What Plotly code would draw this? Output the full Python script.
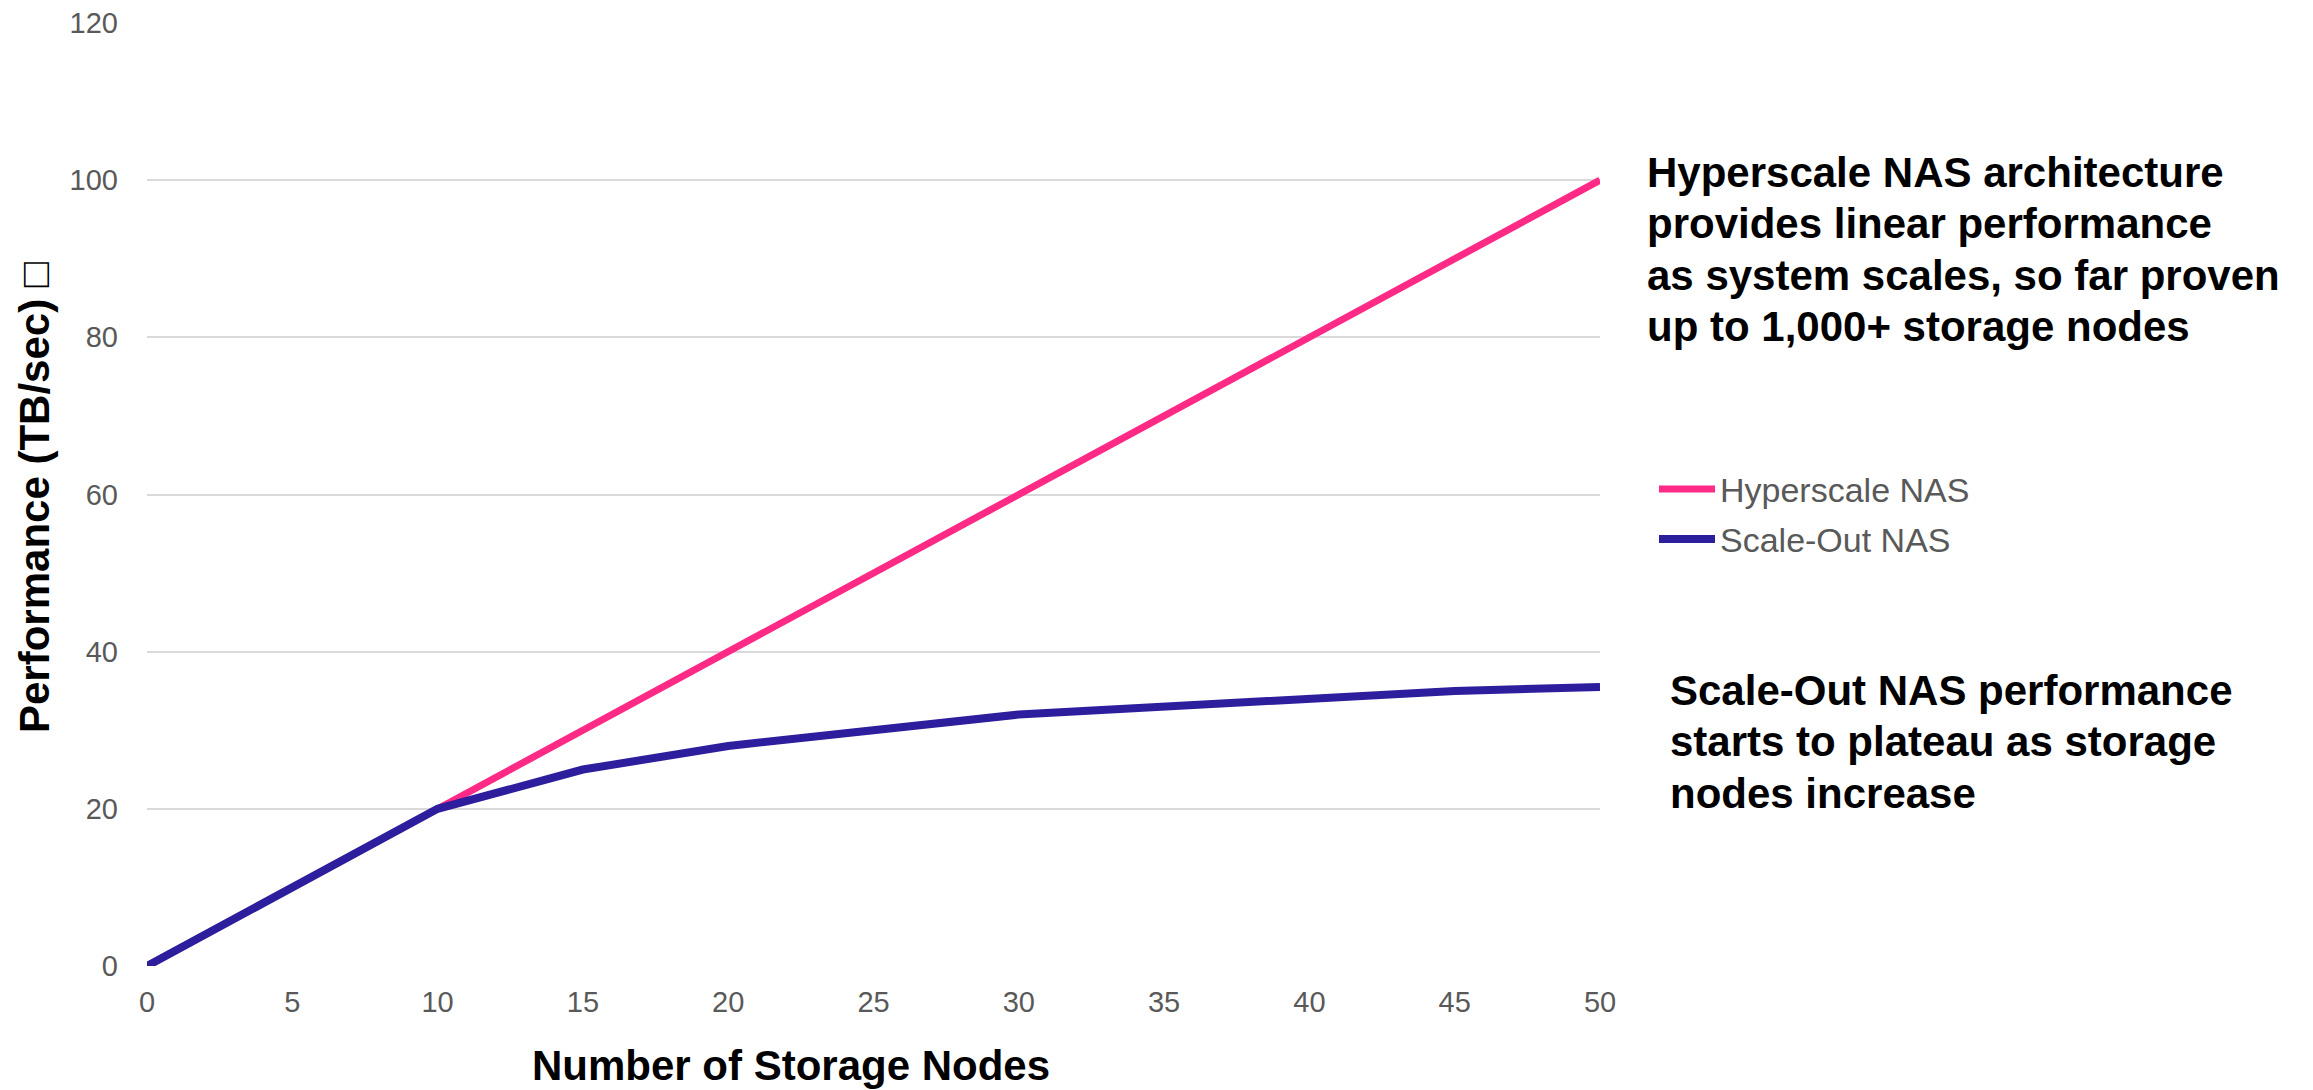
import plotly.graph_objects as go

# Storage node counts and throughput (TB/sec) for each architecture
hyperscale_nodes = [0, 10, 20, 30, 40, 50]
hyperscale_perf = [0, 20, 40, 60, 80, 100]

scaleout_nodes = [0, 10, 15, 20, 30, 45, 50]
scaleout_perf = [0, 20, 25, 28, 32, 35, 35.5]

x_ticks = [0, 5, 10, 15, 20, 25, 30, 35, 40, 45, 50]
y_ticks = [0, 20, 40, 60, 80, 100, 120]

hyperscale_note = [
    "Hyperscale NAS architecture",
    "provides linear performance",
    "as system scales, so far proven",
    "up to 1,000+ storage nodes",
]
scaleout_note = [
    "Scale-Out NAS performance",
    "starts to plateau as storage",
    "nodes increase",
]

FONT = "Liberation Sans, Arial, sans-serif"
PINK = "#FF2A86"
NAVY = "#2C1E9C"
GRAY_TEXT = "#595959"

W, H = 2313, 1090
M_L, M_R, M_T, M_B = 147, 713, 23, 124
PLOT_W = W - M_L - M_R
PLOT_H = H - M_T - M_B

fig = go.Figure()

fig.add_trace(go.Scatter(
    x=hyperscale_nodes, y=hyperscale_perf, mode="lines",
    name="Hyperscale NAS", legendgroup="a",
    line=dict(color=PINK, width=7), cliponaxis=False,
))
fig.add_trace(go.Scatter(
    x=scaleout_nodes, y=scaleout_perf, mode="lines",
    name="Scale-Out NAS", legendgroup="b",
    line=dict(color=NAVY, width=8), cliponaxis=False,
))

fig.update_layout(
    width=W, height=H,
    margin=dict(l=M_L, r=M_R, t=M_T, b=M_B, autoexpand=False),
    paper_bgcolor="white", plot_bgcolor="white",
    font=dict(family=FONT, color=GRAY_TEXT),
    showlegend=True,
    legend=dict(
        x=(1654 - M_L) / PLOT_W, y=0.479, xanchor="left", yanchor="middle",
        font=dict(family=FONT, size=34, color=GRAY_TEXT),
        traceorder="grouped", tracegroupgap=3, itemwidth=56,
        bgcolor="rgba(0,0,0,0)",
    ),
    xaxis=dict(
        range=[0, 50], tickvals=x_ticks, showgrid=False, zeroline=False,
        showline=False, ticks="", ticklabelstandoff=16, automargin=False,
        tickfont=dict(family=FONT, size=29, color=GRAY_TEXT),
    ),
    yaxis=dict(
        range=[0, 120], tickvals=y_ticks, showgrid=True, gridcolor="#D9D9D9",
        gridwidth=2, zeroline=False, showline=False, ticks="",
        ticklabelstandoff=28, automargin=False,
        tickfont=dict(family=FONT, size=29, color=GRAY_TEXT),
    ),
)


def px_to_paper_y(ypx):
    return (H - M_B - ypx) / PLOT_H


# Axis titles
fig.add_annotation(
    text="<b>Performance (TB/sec)</b> <span style='font-weight:normal'>□</span>",
    xref="paper", yref="paper", x=(35 - M_L) / PLOT_W,
    y=px_to_paper_y(497), xanchor="center", yanchor="middle",
    textangle=-90, showarrow=False,
    font=dict(family=FONT, size=42, color="black"),
)
fig.add_annotation(
    text="<b>Number of Storage Nodes</b>", xref="paper", yref="paper",
    x=0.443, y=px_to_paper_y(1065), xanchor="center", yanchor="middle",
    showarrow=False, font=dict(family=FONT, size=42, color="black"),
)

# Callouts beside the chart, one line per annotation for tighter leading
LEADING = 51.5
for i, line in enumerate(hyperscale_note):
    fig.add_annotation(
        text=f"<b>{line}</b>", xref="paper", yref="paper",
        x=1.031, y=px_to_paper_y(172 + i * LEADING), xanchor="left",
        yanchor="middle", align="left", showarrow=False,
        font=dict(family=FONT, size=42, color="black"),
    )
for i, line in enumerate(scaleout_note):
    fig.add_annotation(
        text=f"<b>{line}</b>", xref="paper", yref="paper",
        x=1.047, y=px_to_paper_y(690 + i * LEADING), xanchor="left",
        yanchor="middle", align="left", showarrow=False,
        font=dict(family=FONT, size=42, color="black"),
    )

fig.write_html("out.html")
